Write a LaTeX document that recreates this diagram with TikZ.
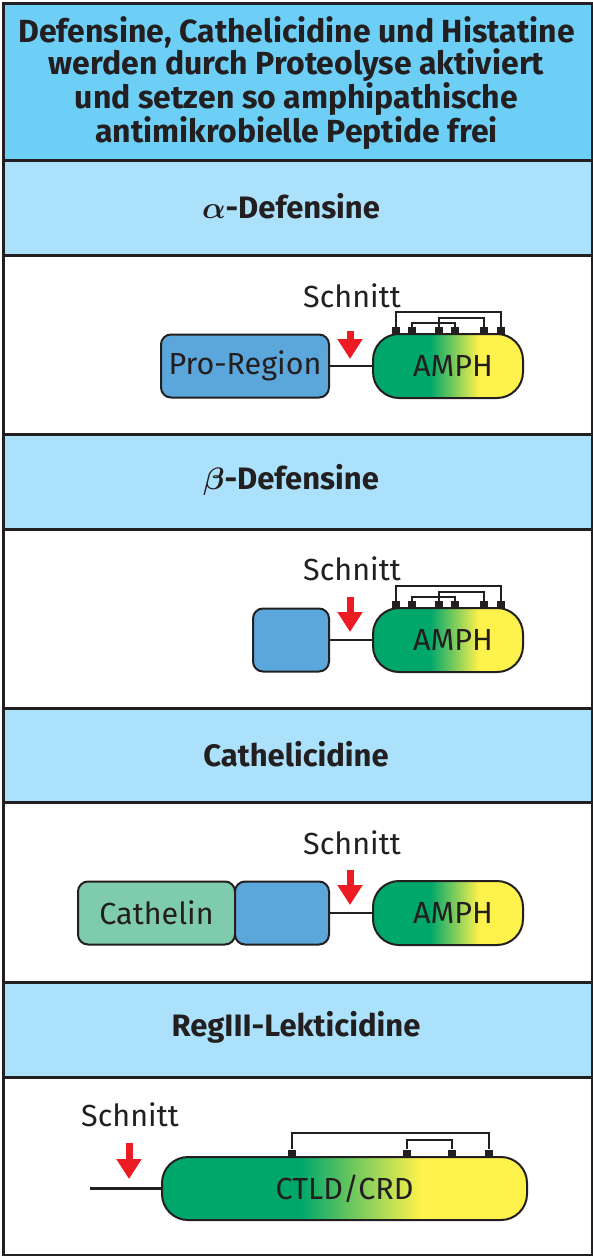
\RequirePackage{fix-cm}
\documentclass[tikz,border=0pt]{standalone}
\usepackage{fontspec}
\setmainfont{Fira Sans}
\usetikzlibrary{arrows.meta,shadings}
\definecolor{titlebg}{HTML}{6DCFF6}
\definecolor{headbg}{HTML}{ABE1FA}
\definecolor{problue}{HTML}{5BA7DC}
\definecolor{cathgreen}{HTML}{7FCBAE}
\definecolor{ampgreen}{HTML}{00A76B}
\definecolor{ampyellow}{HTML}{FFF24C}
\definecolor{cutred}{HTML}{ED1C24}
\definecolor{ink}{HTML}{231F20}
\pgfdeclarehorizontalshading{amphshade}{100bp}{color(0bp)=(ampgreen); color(44bp)=(ampgreen); color(60.5bp)=(ampyellow); color(100bp)=(ampyellow)}
\tikzset{
  band/.style={draw=ink, line width=3pt, minimum width=589.5pt, inner sep=0pt, anchor=north west},
  headtxt/.style={font=\bfseries\fontsize{31}{34}\selectfont, text=ink},
  dombox/.style={draw=ink, line width=2pt, rounded corners=10pt, inner sep=0pt, minimum height=63pt, font=\fontsize{30.5}{34}\selectfont, text=ink},
  amphbox/.style={draw=ink, line width=2pt, rounded corners=26pt, inner sep=0pt, minimum height=64pt, shade, shading=amphshade, font=\fontsize{30.5}{34}\selectfont, text=ink},
  linker/.style={draw=ink, line width=2.5pt},
  cutarrow/.style={draw=cutred, line width=7pt, -{Triangle[width=24pt,length=20pt]}},
  cutlabel/.style={font=\fontsize{30.5}{34}\selectfont, text=ink, inner sep=0pt},
  ss/.style={fill=ink, minimum size=8pt, inner sep=0pt},
  bond/.style={draw=ink, line width=2pt}
}
\begin{document}
\begin{tikzpicture}[x=1pt,y=-1pt]
\useasboundingbox (0,0) rectangle (593,1256);
% bands
\node[band, fill=titlebg, minimum height=157pt] (title) at (1.5,1.5) {};
\node[band, fill=headbg, minimum height=95pt] (h1) at (1.5,158.5) {};
\node[band, fill=white, minimum height=179pt] (w1) at (1.5,253.5) {};
\node[band, fill=headbg, minimum height=95pt] (h2) at (1.5,432.5) {};
\node[band, fill=white, minimum height=179pt] (w2) at (1.5,527.5) {};
\node[band, fill=headbg, minimum height=94pt] (h3) at (1.5,706.5) {};
\node[band, fill=white, minimum height=180pt] (w3) at (1.5,800.5) {};
\node[band, fill=headbg, minimum height=95pt] (h4) at (1.5,980.5) {};
\node[band, fill=white, minimum height=178pt] (w4) at (1.5,1075.5) {};
% texts
\node[align=center, font=\bfseries\fontsize{32}{32}\selectfont, text=ink, inner sep=0pt] (titletxt) at (296.5,83)
 {Defensine, Cathelicidine und Histatine\\werden durch Proteolyse aktiviert\\und setzen so amphipathische\\antimikrobielle Peptide frei};
\node[headtxt] (t1) at (291,206) {{\boldmath$\alpha$}-Defensine};
\node[headtxt] (t2) at (291,480) {{\boldmath$\beta$}-Defensine};
\node[headtxt] (t3) at (296,754) {Cathelicidine};
\node[headtxt] (t4) at (296,1027) {RegIII-Lekticidine};
% alpha
\node[dombox, fill=problue, minimum width=168pt] (pro1) at (245,366) {Pro-Region};
\node[amphbox, minimum width=150pt] (amph1) at (448,366) {\hspace*{10pt}AMPH};
\draw[linker] (pro1.east) -- (amph1.west);
\node[cutlabel] (sch1) at (352,296) {Schnitt};
\coordinate (a1s) at (350,331);
\coordinate (a1e) at (350,359);
\draw[cutarrow] (a1s) -- (a1e);
\foreach \n/\x in {1/396,2/412,3/439,4/455,5/484,6/501}{
  \node[ss] (sa\n) at (\x,331) {};
}
\draw[bond] (sa1.north) -- (sa1.north |- 0,312) -| (sa6.north);
\draw[bond] (sa3.north) -- (sa3.north |- 0,317.5) -| (sa5.north);
\draw[bond] (sa2.north) -- (sa2.north |- 0,323) -| (sa4.north);
% beta
\node[dombox, fill=problue, minimum width=76pt] (pro2) at (291,640) {};
\node[amphbox, minimum width=150pt] (amph2) at (448,640) {\hspace*{10pt}AMPH};
\draw[linker] (pro2.east) -- (amph2.west);
\node[cutlabel] (sch2) at (352,569) {Schnitt};
\coordinate (a2s) at (350,597);
\coordinate (a2e) at (350,632);
\draw[cutarrow] (a2s) -- (a2e);
\foreach \n/\x in {1/396,2/412,3/439,4/455,5/484,6/501}{
  \node[ss] (sb\n) at (\x,605) {};
}
\draw[bond] (sb1.north) -- (sb1.north |- 0,586) -| (sb6.north);
\draw[bond] (sb3.north) -- (sb3.north |- 0,591.5) -| (sb5.north);
\draw[bond] (sb2.north) -- (sb2.north |- 0,597) -| (sb4.north);
% cathelicidine
\node[dombox, fill=cathgreen, minimum width=157pt] (cath) at (156.5,913) {Cathelin};
\node[dombox, fill=problue, minimum width=94pt] (pro3) at (282,913) {};
\node[amphbox, minimum width=150pt] (amph3) at (448,913) {\hspace*{10pt}AMPH};
\draw[linker] (pro3.east) -- (amph3.west);
\node[cutlabel] (sch3) at (352,843) {Schnitt};
\coordinate (a3s) at (350,870);
\coordinate (a3e) at (350,905);
\draw[cutarrow] (a3s) -- (a3e);
% RegIII
\node[amphbox, minimum width=365pt, minimum height=63pt] (ctld) at (344.5,1188.5) {CTLD/CRD};
\coordinate (free) at (90,1188.5);
\draw[linker] (free) -- (ctld.west);
\node[cutlabel] (sch4) at (130,1115) {Schnitt};
\coordinate (a4s) at (129,1143);
\coordinate (a4e) at (129,1179);
\draw[cutarrow] (a4s) -- (a4e);
\foreach \n/\x in {1/292,2/407,3/452,4/489}{
  \node[ss] (sc\n) at (\x,1153.5) {};
}
\draw[bond] (sc1.north) -- (sc1.north |- 0,1133) -| (sc4.north);
\draw[bond] (sc2.north) -- (sc2.north |- 0,1139.5) -| (sc3.north);
\end{tikzpicture}
\end{document}
